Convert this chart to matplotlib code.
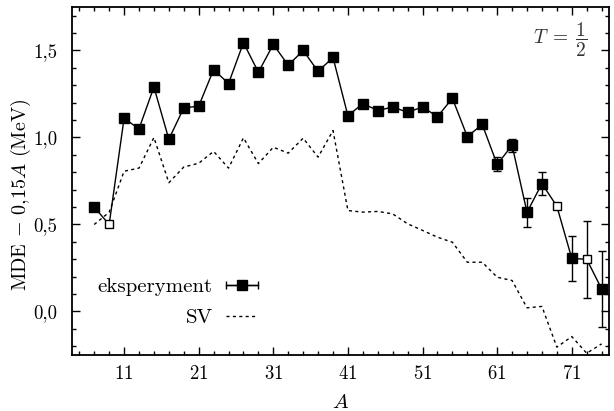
import numpy as np
import matplotlib
matplotlib.use('Agg')
import matplotlib.pyplot as plt
from matplotlib.ticker import FixedLocator, MultipleLocator, FuncFormatter
from matplotlib.legend_handler import HandlerErrorbar
from matplotlib.container import ErrorbarContainer

plt.rcParams['font.family'] = 'cmr10'
plt.rcParams['mathtext.fontset'] = 'cm'
plt.rcParams['axes.formatter.use_mathtext'] = True
plt.rcParams['axes.unicode_minus'] = False

# dane: liczba masowa A i MDE - 0,15A (MeV)
A = [7, 9, 11, 13, 15, 17, 19, 21, 23, 25, 27, 29, 31, 33, 35, 37, 39, 41, 43, 45,
     47, 49, 51, 53, 55, 57, 59, 61, 63, 65, 67, 69, 71, 73, 75]
mde = [0.60, 0.50, 1.11, 1.05, 1.29, 0.99, 1.17, 1.18, 1.39, 1.31,
       1.545, 1.375, 1.535, 1.415, 1.50, 1.38, 1.46, 1.125, 1.195, 1.155,
       1.175, 1.145, 1.175, 1.12, 1.225, 1.005, 1.075, 0.845, 0.955, 0.57,
       0.735, 0.605, 0.305, 0.30, 0.13]
# niepewnosci (0 = niewidoczne)
err = [0, 0, 0, 0, 0, 0, 0, 0, 0, 0,
       0, 0, 0, 0, 0, 0, 0, 0, 0, 0,
       0, 0, 0, 0, 0, 0, 0, 0.04, 0.036, 0.085,
       0.067, 0, 0.13, 0.22, 0.22]
# punkty oznaczone pustym kwadratem
open_A = [9, 69, 73]

# model SV
sv = [0.50, 0.57, 0.806, 0.824, 1.00, 0.74, 0.83, 0.852, 0.92, 0.824,
      0.998, 0.85, 0.944, 0.91, 0.996, 0.887, 1.04, 0.58, 0.571, 0.575,
      0.561, 0.504, 0.466, 0.427, 0.398, 0.283, 0.283, 0.197, 0.178, 0.021,
      0.029, -0.205, -0.144, -0.24, -0.186]

x_major = [11, 21, 31, 41, 51, 61, 71]

A_arr = np.array(A)
mde_arr = np.array(mde)
err_arr = np.array(err)
is_open = np.isin(A_arr, open_A)
has_err = err_arr > 0

fig = plt.figure(figsize=(6.14, 4.11), dpi=100)
ax = fig.add_axes([0.117, 0.1363, 0.875, 0.8467])

sv_line, = ax.plot(A, sv, color='k', lw=1, linestyle=(0, (2.2, 2.4)), label='SV', zorder=1)
ax.plot(A, mde, color='k', lw=1, zorder=2)
ax.errorbar(A_arr[has_err], mde_arr[has_err], yerr=err_arr[has_err], fmt='none',
            ecolor='k', elinewidth=1, capsize=2.8, capthick=1, zorder=3)
ax.plot(A_arr[~is_open], mde_arr[~is_open], 's', color='k', ms=7.2, zorder=4)
ax.plot(A_arr[is_open], mde_arr[is_open], 's', mfc='white', mec='k', mew=1, ms=5.5, zorder=4)

# uchwyt legendy (kwadrat z pozioma niepewnoscia)
exp_handle = ax.errorbar([np.nan], [np.nan], xerr=[1], fmt='s-', color='k', ms=7, lw=1,
                         capsize=2.8, capthick=1, label='eksperyment')

ax.set_xlim(4, 76)
ax.set_ylim(-0.25, 1.75)
ax.xaxis.set_major_locator(FixedLocator(x_major))
ax.xaxis.set_minor_locator(FixedLocator(list(range(5, 76, 2))))
ax.yaxis.set_major_locator(MultipleLocator(0.5))
ax.yaxis.set_minor_locator(MultipleLocator(0.1))
ax.yaxis.set_major_formatter(FuncFormatter(lambda v, p: f'{v:.1f}'.replace('.', ',')))

ax.tick_params(which='both', direction='in', top=True, right=True, width=1, labelsize=13.5)
ax.tick_params(which='major', length=6)
ax.tick_params(which='minor', length=3)
ax.tick_params(axis='x', which='major', pad=7)
ax.tick_params(axis='y', which='major', pad=10.5)
for s in ax.spines.values():
    s.set_linewidth(1.3)

ax.set_xlabel('$A$', fontsize=15, labelpad=8)
ax.set_ylabel('MDE $-$ 0,15$A$ (MeV)', fontsize=14.5)
ax.yaxis.set_label_coords(-0.072, 0.46)

ax.text(0.96, 0.905, r'$T\;=\;\dfrac{1}{2}$', transform=ax.transAxes,
        ha='right', va='center', fontsize=14, color='#333333')

ax.legend(handles=[exp_handle, sv_line], labels=['eksperyment', 'SV'],
          loc='center right', bbox_to_anchor=(0.346, 0.152), frameon=False,
          markerfirst=False, numpoints=1, handlelength=1.5, handletextpad=0.67,
          labelspacing=0.6, borderaxespad=0, borderpad=0, fontsize=15,
          handler_map={ErrorbarContainer: HandlerErrorbar(xerr_size=0.75)})

plt.savefig('out.png', dpi=100)
